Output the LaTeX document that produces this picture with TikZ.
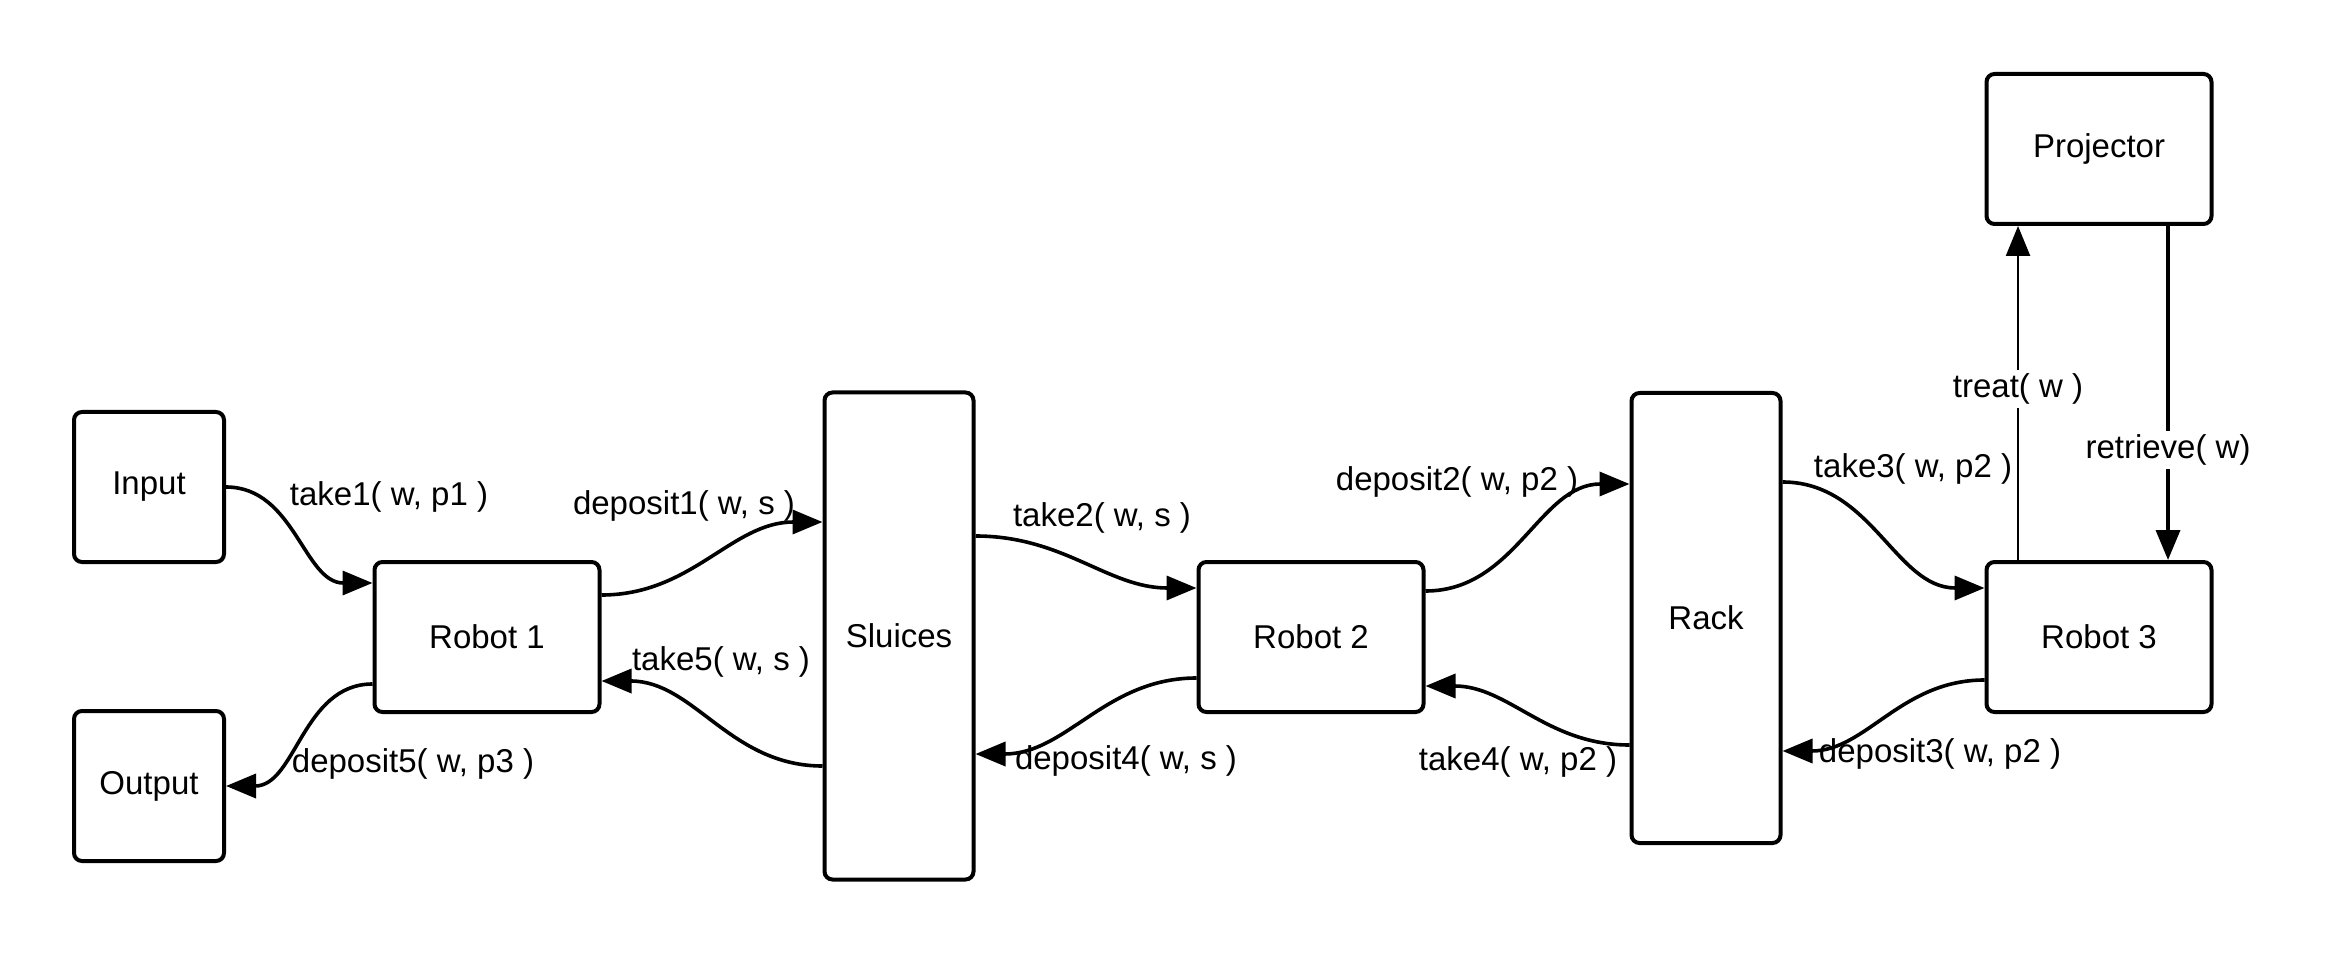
\documentclass[tikz,border=0pt]{standalone}
\usepackage{fontspec}
\setmainfont{Liberation Sans}
\usetikzlibrary{arrows.meta}
\begin{document}
\begin{tikzpicture}[x=0.5pt,y=-0.5pt,
  font=\fontsize{16.5}{20}\selectfont,
  box/.style={draw,line width=2pt,rounded corners=4pt,inner sep=0pt,align=center},
  smallbox/.style={box,minimum width=75pt,minimum height=75pt},
  widebox/.style={box,minimum width=112.5pt,minimum height=75pt},
  flow/.style={line width=1.8pt,-{Triangle[length=15pt,width=12pt]}},
  thinflow/.style={line width=1.2pt,-{Triangle[length=15pt,width=12pt]}},
  lbl/.style={inner sep=1pt},
  vlbl/.style={fill=white,inner sep=2pt}]
\useasboundingbox (0,0) rectangle (2327,956);

% stations
\node[smallbox] (input)  at (149,487) {Input};
\node[smallbox] (output) at (149,786) {Output};
\node[widebox]  (r1)     at (487,637) {Robot 1};
\node[box,minimum width=74.5pt,minimum height=243.5pt] (sluices) at (899,636) {Sluices};
\node[widebox]  (r2)     at (1311,637) {Robot 2};
\node[box,minimum width=74.5pt,minimum height=225pt] (rack) at (1706,618) {Rack};
\node[widebox]  (r3)     at (2099,637) {Robot 3};
\node[widebox]  (proj)   at (2099,149) {Projector};

% transfers
\draw[flow] (input.east) to[out=0,in=180] ([yshift=27pt]r1.west);
\draw[flow] ([yshift=-23.5pt]r1.west) to[out=180,in=0] (output.east);
\draw[flow] ([yshift=21pt]r1.east) to[out=0,in=180] ([yshift=57pt]sluices.west);
\draw[flow] ([yshift=-65pt]sluices.west) to[out=180,in=0] ([yshift=-22pt]r1.east);
\draw[flow] ([yshift=50pt]sluices.east) to[out=0,in=180] ([yshift=24.5pt]r2.west);
\draw[flow] ([yshift=-20.5pt]r2.west) to[out=180,in=0] ([yshift=-59pt]sluices.east);
\draw[flow] ([yshift=23pt]r2.east) to[out=0,in=180] ([yshift=67pt]rack.west);
\draw[flow] ([yshift=-63.5pt]rack.west) to[out=180,in=0] ([yshift=-24.5pt]r2.east);
\draw[flow] ([yshift=68pt]rack.east) to[out=0,in=180] ([yshift=24.5pt]r3.west);
\draw[flow] ([yshift=-21.5pt]r3.west) to[out=180,in=0] ([yshift=-66.5pt]rack.east);
\draw[thinflow] ([xshift=-40.5pt]r3.north) -- ([xshift=-40.5pt]proj.south);
\draw[flow] ([xshift=34.5pt]proj.south) -- ([xshift=34.5pt]r3.north);

% operation labels
\node[lbl] (l1)  at (389,497)  {take1( w, p1 )};
\node[lbl] (l2)  at (413,764)  {deposit5( w, p3 )};
\node[lbl] (l3)  at (684,506)  {deposit1( w, s )};
\node[lbl] (l4)  at (721,662)  {take5( w, s )};
\node[lbl] (l5)  at (1102,518) {take2( w, s )};
\node[lbl] (l6)  at (1126,761) {deposit4( w, s )};
\node[lbl] (l7)  at (1457,482) {deposit2( w, p2 )};
\node[lbl] (l8)  at (1518,762) {take4( w, p2 )};
\node[lbl] (l9)  at (1913,469) {take3( w, p2 )};
\node[lbl] (l10) at (1940,754) {deposit3( w, p2 )};
\node[vlbl] (l11) at (2018,389) {treat( w )};
\node[vlbl] (l12) at (2168,450) {retrieve( w)};
\end{tikzpicture}
\end{document}
